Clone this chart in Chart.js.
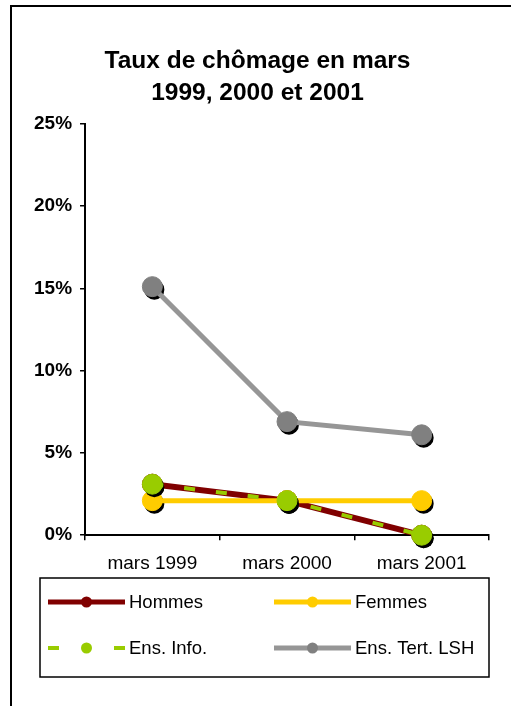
<!DOCTYPE html>
<html>
<head>
<meta charset="utf-8">
<script src="https://cdn.jsdelivr.net/npm/chart.js@4/dist/chart.umd.min.js"></script>
<style>
  html, body { margin: 0; padding: 0; background: #fff; }
  canvas { display: block; }
</style>
</head>
<body>
<canvas id="chart" width="511" height="706"></canvas>
<script>
// Unemployment rate (%) in March of each year
const categories = ['mars 1999', 'mars 2000', 'mars 2001'];
const hommes     = [3.1, 2.1, 0];
const femmes     = [2.1, 2.1, 2.1];
const ensInfo    = [3.1, 2.1, 0];
const ensTertLSH = [15.1, 6.9, 6.1];
const seriesLabels = ['Hommes', 'Femmes', 'Ens. Info.', 'Ens. Tert. LSH'];
const yMin = 0, yMax = 25, yStep = 5;

const FONT = "'Liberation Sans', Arial, sans-serif";

// Black drop shadow under each marker, painted before the series itself
const markerShadow = {
  id: 'markerShadow',
  beforeDatasetDraw(chart, args) {
    const ctx = chart.ctx;
    ctx.save();
    ctx.fillStyle = '#000';
    args.meta.data.forEach(pt => {
      const r = pt.options.radius;
      ctx.beginPath();
      ctx.arc(pt.x + 2, pt.y + 3, r, 0, Math.PI * 2);
      ctx.fill();
    });
    ctx.restore();
  }
};

// White page with the frame lines on the left and top
const pageFrame = {
  id: 'pageFrame',
  beforeDraw(chart) {
    const ctx = chart.ctx;
    ctx.save();
    ctx.fillStyle = '#fff';
    ctx.fillRect(0, 0, chart.width, chart.height);
    ctx.strokeStyle = '#000';
    ctx.lineWidth = 2;
    ctx.beginPath();
    ctx.moveTo(11, chart.height);
    ctx.lineTo(11, 6);
    ctx.lineTo(chart.width, 6);
    ctx.stroke();
    ctx.restore();
  }
};

// Boxed two-column legend below the axis
const boxLegend = {
  id: 'boxLegend',
  afterDraw(chart) {
    const ctx = chart.ctx;
    const box = { left: 40, top: 578, right: 489, bottom: 677 };
    ctx.save();
    ctx.strokeStyle = '#000';
    ctx.lineWidth = 1.5;
    ctx.strokeRect(box.left, box.top, box.right - box.left, box.bottom - box.top);

    const cols = [48, 274];
    const rows = [602, 648];
    const sampleW = 77;
    chart.data.datasets.forEach((ds, i) => {
      const x0 = cols[i % 2];
      const y = rows[Math.floor(i / 2)];
      ctx.save();
      ctx.strokeStyle = ds.borderColor;
      ctx.lineWidth = ds.legendLineWidth;
      ctx.lineCap = 'butt';
      if (ds.borderDash && ds.borderDash.length) {
        ctx.setLineDash([11, sampleW - 22]);
      }
      ctx.beginPath();
      ctx.moveTo(x0, y);
      ctx.lineTo(x0 + sampleW, y);
      ctx.stroke();
      ctx.setLineDash([]);
      ctx.fillStyle = ds.pointBackgroundColor;
      ctx.beginPath();
      ctx.arc(x0 + sampleW / 2, y, 5.5, 0, Math.PI * 2);
      ctx.fill();
      ctx.restore();

      ctx.fillStyle = '#000';
      ctx.font = '18.5px ' + FONT;
      ctx.textBaseline = 'middle';
      ctx.textAlign = 'left';
      ctx.fillText(ds.label, x0 + sampleW + 4, y + 1);
    });
    ctx.restore();
  }
};

const seriesValues = [hommes, femmes, ensInfo, ensTertLSH];
const lineColors   = ['#800000', '#FFCC00', '#99CC00', '#969696'];
const pointColors  = ['#800000', '#FFCC00', '#99CC00', '#808080'];
const lineWidths   = [6, 5, 4, 5];

const datasets = seriesValues.map((vals, i) => ({
  label: seriesLabels[i],
  data: vals,
  borderColor: lineColors[i],
  backgroundColor: pointColors[i],
  pointBackgroundColor: pointColors[i],
  pointBorderColor: pointColors[i],
  pointBorderWidth: 1,
  pointRadius: 10,
  borderWidth: lineWidths[i],
  legendLineWidth: i === 2 ? 4 : 5,
  borderDash: i === 2 ? [11, 21] : [],
  tension: 0,
  fill: false,
  clip: false,
  order: seriesValues.length - i
}));

new Chart(document.getElementById('chart'), {
  type: 'line',
  data: { labels: categories, datasets },
  plugins: [pageFrame, markerShadow, boxLegend],
  options: {
    responsive: false,
    devicePixelRatio: 1,
    animation: false,
    events: [],
    layout: { padding: { left: 26, right: 22, top: 0, bottom: 119 } },
    plugins: {
      legend: { display: false },
      tooltip: { enabled: false },
      title: {
        display: true,
        text: ['Taux de chômage en mars', '1999, 2000 et 2001'],
        color: '#000',
        font: { family: FONT, size: 24.5, weight: 'bold', lineHeight: 1.3 },
        padding: { top: 45, bottom: 15 }
      }
    },
    scales: {
      x: {
        type: 'category',
        offset: true,
        grid: { offset: true, drawOnChartArea: false, drawTicks: true, tickLength: 5, color: '#000', lineWidth: 1.5 },
        border: { display: true, color: '#000', width: 2 },
        ticks: { color: '#000', font: { family: FONT, size: 19 }, padding: 12, maxRotation: 0 }
      },
      y: {
        min: yMin,
        max: yMax,
        grid: { drawOnChartArea: false, drawTicks: true, tickLength: 5, color: '#000', lineWidth: 1.5 },
        border: { display: true, color: '#000', width: 2 },
        ticks: {
          stepSize: yStep,
          color: '#000',
          padding: 8,
          font: { family: FONT, size: 19, weight: 'bold' },
          callback: v => v + '%'
        }
      }
    }
  }
});
</script>
</body>
</html>
